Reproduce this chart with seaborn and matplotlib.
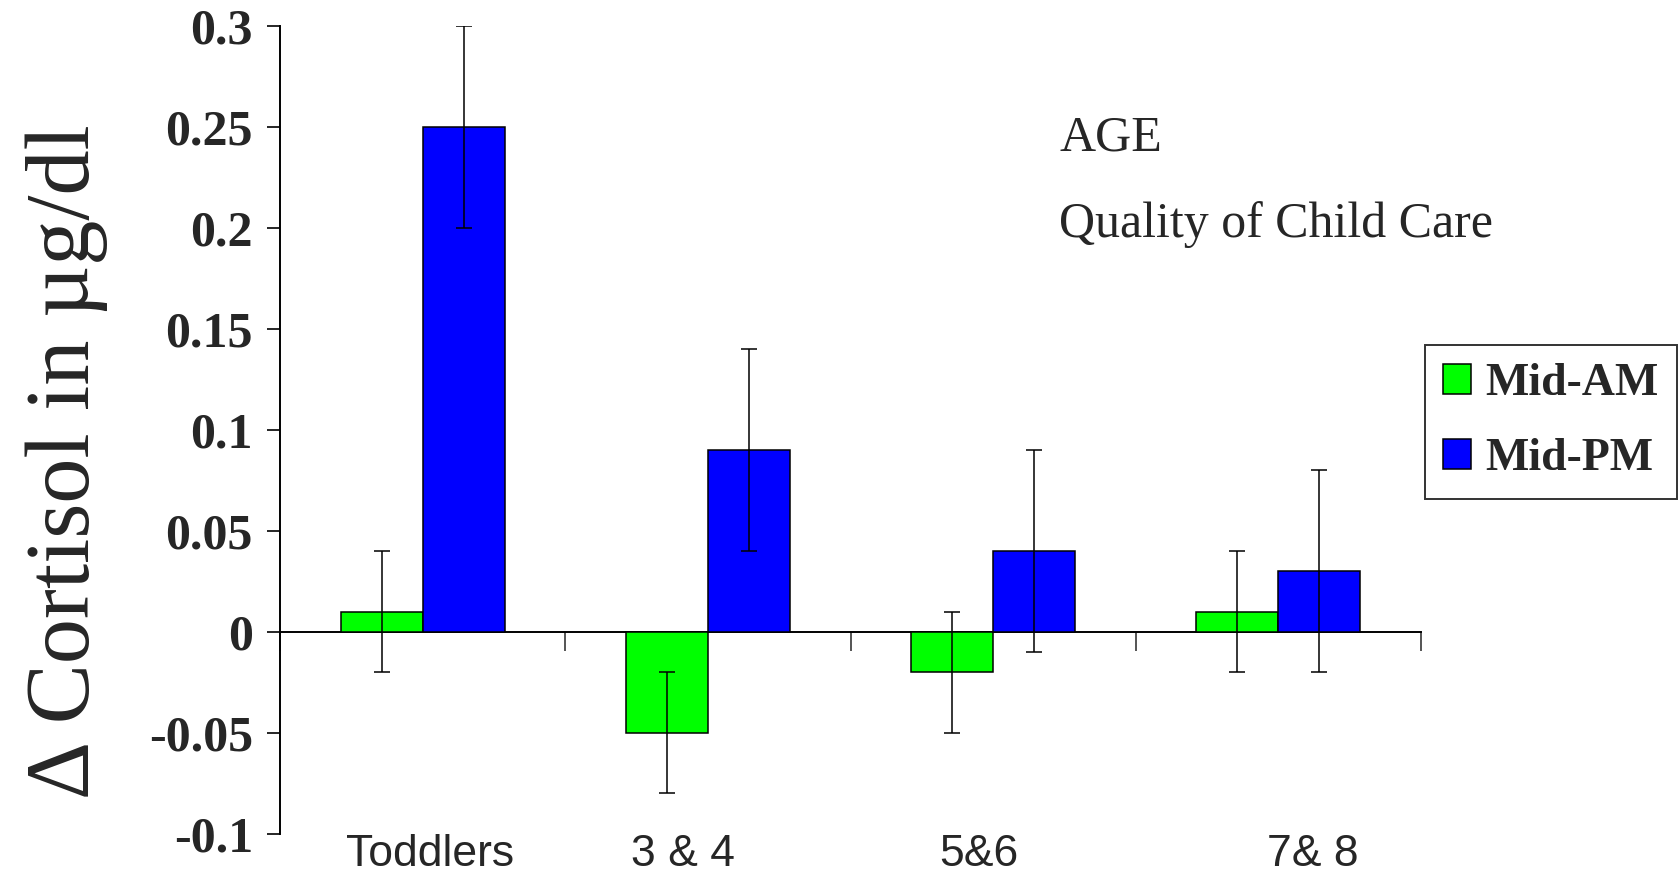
import matplotlib
matplotlib.use("Agg")
import matplotlib.pyplot as plt
import matplotlib.transforms as mtransforms
import seaborn as sns
import pandas as pd

# ---------------------------------- data ----------------------------------
ages = ["Toddlers", "3 & 4", "5&6", "7& 8"]
series = ["Mid-AM", "Mid-PM"]
mid_am = [0.01, -0.05, -0.02, 0.01]
mid_pm = [0.25, 0.09, 0.04, 0.03]
err_am = [0.03, 0.03, 0.03, 0.03]
err_pm = [0.05, 0.05, 0.05, 0.05]
colors = ["#00ff00", "#0000ff"]
y_ticks = [-0.1, -0.05, 0, 0.05, 0.1, 0.15, 0.2, 0.25, 0.3]
y_ticklabels = ["-0.1", "-0.05", "0", "0.05", "0.1", "0.15", "0.2", "0.25", "0.3"]

df = pd.DataFrame({
    "age": ages * 2,
    "series": [series[0]] * 4 + [series[1]] * 4,
    "value": mid_am + mid_pm,
})
errors = [err_am, err_pm]

sns.set_style("white")
plt.rcParams["font.family"] = ["Liberation Serif", "DejaVu Serif"]

fig = plt.figure(figsize=(16.78, 8.73), dpi=100)
ax = fig.add_axes([0.1669, 0.045, 0.68, 0.9256])

sns.barplot(data=df, x="age", y="value", hue="series", order=ages,
            hue_order=series, palette=colors, width=0.575, gap=0,
            edgecolor="black", linewidth=1.1, saturation=1,
            errorbar=None, ax=ax)
bar_conts = list(ax.containers)

# error bars centred on every bar, one container per series
for cont, err in zip(bar_conts, errors):
    xs = [b.get_x() + b.get_width() / 2 for b in cont]
    ys = [b.get_y() + b.get_height() if b.get_y() >= 0 else b.get_y() for b in cont]
    ax.errorbar(xs, ys, yerr=err, fmt="none", ecolor="black",
                elinewidth=1.1, capsize=6, capthick=1.1, zorder=5)

ymin, ymax = -0.1, 0.3
ax.set_ylim(ymin, ymax)
ax.set_xlim(-0.5, 3.5)

# y axis
ax.set_yticks(y_ticks)
ax.set_yticklabels(y_ticklabels, fontsize=36, fontweight="bold")
ax.tick_params(axis="y", direction="out", length=9.5, width=1.4, pad=10, left=True)
ax.set_ylabel("\u0394 Cortisol in \u00b5g/dl", fontsize=65, va="center")
ax.yaxis.set_label_coords(-0.187, 0.46)

# x labels stay at the bottom, the axis line sits at zero
for s in ["top", "right", "bottom"]:
    ax.spines[s].set_visible(False)
ax.spines["left"].set_linewidth(1.4)
ax.spines["left"].set_color("black")
ax.set_xlabel("")
ax.tick_params(axis="x", length=0, pad=0)
# the original slide has the category labels slightly off centre (points)
label_shift = [5, -18, -10, 25]
for lab, dx in zip(ax.get_xticklabels(), label_shift):
    lab.set_fontfamily("Liberation Sans")
    lab.set_fontsize(32)
    lab.set_transform(lab.get_transform() +
                      mtransforms.ScaledTranslation(dx / 72, 0, fig.dpi_scale_trans))

zero_ax = ax.secondary_xaxis((0 - ymin) / (ymax - ymin))
zero_ax.set_xticks([-0.5, 0.5, 1.5, 2.5, 3.5])
zero_ax.set_xticklabels([])
zero_ax.tick_params(axis="x", direction="out", length=14, width=1.1)
zero_ax.spines["bottom"].set_linewidth(1.4)
zero_ax.spines["bottom"].set_color("black")

# annotations
ax.text(0.683, 0.845, "AGE", transform=ax.transAxes, fontsize=36, va="baseline")
ax.text(0.683, 0.738, "Quality of Child Care", transform=ax.transAxes,
        fontsize=36, va="baseline")

# legend
handles = [cont.patches[0] for cont in bar_conts]
leg = ax.legend(handles, series, loc="upper left",
                bbox_to_anchor=(0.849, 0.605), bbox_transform=fig.transFigure,
                prop={"family": "Liberation Serif", "weight": "bold", "size": 33},
                frameon=True, fancybox=False, edgecolor="black",
                handlelength=0.62, handleheight=0.62, handletextpad=0.3,
                labelspacing=0.72, borderpad=0.4, borderaxespad=0)
leg.get_frame().set_linewidth(1.4)

fig.savefig("out.png", dpi=100)
